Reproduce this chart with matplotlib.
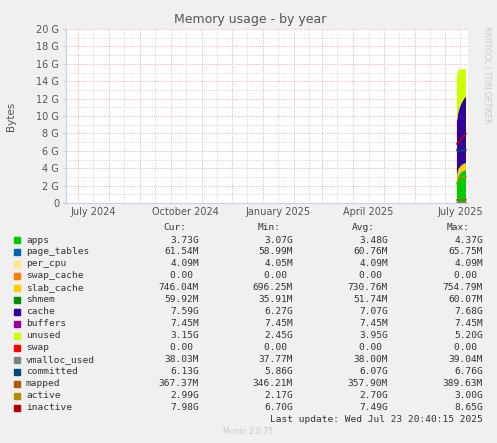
import numpy as np
import matplotlib
matplotlib.use("Agg")
import matplotlib.pyplot as plt

W, H = 497, 443
BG = "#F0F0F0"

# days since 2024-07-01
days = [377, 378.5, 380, 381.5, 383, 384.5, 386]
apps = [2.3, 3.1, 3.3, 3.5, 3.6, 3.7, 3.73]
page_tables = [0.06, 0.06, 0.06, 0.06, 0.06, 0.06, 0.06]
per_cpu = [0.004] * 7
swap_cache = [0.0] * 7
slab_cache = [0.70, 0.72, 0.73, 0.74, 0.75, 0.75, 0.746]
shmem = [0.04, 0.05, 0.05, 0.06, 0.06, 0.06, 0.06]
cache = [6.3, 6.6, 6.9, 7.1, 7.3, 7.5, 7.59]
buffers = [0.007] * 7
unused = [5.2, 4.8, 4.3, 3.9, 3.6, 3.3, 3.15]
swap = [0.0] * 7
vmalloc_used = [0.038] * 7
committed = [6.1, 5.9, 6.0, 6.1, 6.0, 6.2, 6.13]
mapped = [0.35, 0.35, 0.36, 0.36, 0.36, 0.37, 0.367]
active = [2.2, 2.9, 2.95, 3.0, 2.95, 3.0, 2.99]
inactive = [6.8, 7.0, 7.2, 7.4, 7.6, 7.8, 7.98]

areas = [
    ("apps", apps, "#00CC00"), ("page_tables", page_tables, "#0066B3"),
    ("per_cpu", per_cpu, "#FFE680"), ("swap_cache", swap_cache, "#FF8000"),
    ("slab_cache", slab_cache, "#FFCC00"), ("shmem", shmem, "#008F00"),
    ("cache", cache, "#330099"), ("buffers", buffers, "#990099"),
    ("unused", unused, "#CCFF00"), ("swap", swap, "#FF0000"),
]
lines = [
    ("vmalloc_used", vmalloc_used, "#808080"), ("committed", committed, "#00487D"),
    ("mapped", mapped, "#B35A00"), ("active", active, "#B38F00"),
    ("inactive", inactive, "#B30000"),
]

names = ["apps", "page_tables", "per_cpu", "swap_cache", "slab_cache", "shmem", "cache",
         "buffers", "unused", "swap", "vmalloc_used", "committed", "mapped", "active", "inactive"]
cur = ["3.73G", "61.54M", "4.09M", "0.00", "746.04M", "59.92M", "7.59G", "7.45M", "3.15G",
       "0.00", "38.03M", "6.13G", "367.37M", "2.99G", "7.98G"]
mn = ["3.07G", "58.99M", "4.05M", "0.00", "696.25M", "35.91M", "6.27G", "7.45M", "2.45G",
      "0.00", "37.77M", "5.86G", "346.21M", "2.17G", "6.70G"]
avg = ["3.48G", "60.76M", "4.09M", "0.00", "730.76M", "51.74M", "7.07G", "7.45M", "3.95G",
       "0.00", "38.00M", "6.07G", "357.90M", "2.70G", "7.49G"]
mx = ["4.37G", "65.75M", "4.09M", "0.00", "754.79M", "60.07M", "7.68G", "7.45M", "5.20G",
      "0.00", "39.04M", "6.76G", "389.63M", "3.00G", "8.65G"]
colors = [c for _, _, c in areas] + [c for _, _, c in lines]

tick_labels = ["July 2024", "October 2024", "January 2025", "April 2025", "July 2025"]

fig = plt.figure(figsize=(W / 100, H / 100), dpi=100, facecolor=BG)
ax = fig.add_axes([66 / W, 1 - 203 / H, 402 / W, 174 / H])
ax.set_facecolor("white")

origin = np.datetime64("2024-07-01")
month_starts = np.arange(np.datetime64("2024-07"), np.datetime64("2025-08"), dtype="datetime64[M]")
month_days = (month_starts.astype("datetime64[D]") - origin).astype(int)
ax.set_xlim(-12, 388)
ax.set_ylim(0, 20)

for d in month_days:
    ax.axvline(d + 15, color="#C8C8C8", lw=0.6, ls=(0, (1, 1.5)), zorder=0)
    ax.axvline(d, color="#E0A0A0", lw=0.6, ls=(0, (1, 1.5)), zorder=0.5)
for y in range(1, 21, 2):
    ax.axhline(y, color="#C8C8C8", lw=0.6, ls=(0, (1, 1.5)), zorder=0)
for y in range(2, 21, 2):
    ax.axhline(y, color="#E0A0A0", lw=0.6, ls=(0, (1, 1.5)), zorder=0.5)

ax.stackplot(days, [v for _, v, _ in areas], colors=[c for _, _, c in areas], lw=0, zorder=2)
for _, v, c in lines:
    ax.plot(days, v, color=c, lw=1.2, zorder=3)

ax.set_yticks(range(0, 21, 2))
ax.set_yticklabels(["0"] + [f"{y} G" for y in range(2, 21, 2)])
lab_pos = [month_days[i] + 15 for i in (0, 3, 6, 9, 12)]
ax.set_xticks(lab_pos)
ax.set_xticklabels(tick_labels)
ax.tick_params(axis="both", length=0, labelsize=7, colors="#555555", pad=3)
ax.tick_params(axis="y", length=2, color="#C8C8C8")
for s in ["top", "right"]:
    ax.spines[s].set_visible(False)
ax.spines["left"].set_color("#C8D0F0")
ax.spines["bottom"].set_color("#C8D0F0")

fig.text(250 / W, 1 - 19 / H, "Memory usage - by year", ha="center", va="center",
         fontsize=9, color="#555555")
fig.text(11 / W, 1 - 116 / H, "Bytes", rotation=90, ha="center", va="center",
         fontsize=7.5, color="#555555")
fig.text(487 / W, 1 - 26 / H, "RRDTOOL / TOBI OETIKER", rotation=270, ha="center", va="top",
         fontsize=5.5, color="#C8C8C8")

mono = "DejaVu Sans Mono"
fs = 6.8
tc = "#333333"
hy = 1 - 228 / H
for x, t in zip([186, 281, 375, 470], ["Cur:", "Min:", "Avg:", "Max:"]):
    fig.text(x / W, hy, t, ha="right", va="center", family=mono, fontsize=fs, color=tc)
for i, n in enumerate(names):
    y = 240 + i * 12
    fy = 1 - y / H
    fig.patches.append(plt.Rectangle((14 / W, fy - 3 / H), 6 / W, 6 / H, color=colors[i],
                                     transform=fig.transFigure, figure=fig))
    fig.text(26 / W, fy, n, ha="left", va="center", family=mono, fontsize=fs, color=tc)
    for x, col in zip([199, 293, 388, 483], [cur, mn, avg, mx]):
        v = col[i]
        if v[-1].isdigit():
            v = v + " "
        fig.text(x / W, fy, v, ha="right", va="center", family=mono, fontsize=fs, color=tc)
fig.text(483 / W, 1 - 420 / H, "Last update: Wed Jul 23 20:40:15 2025", ha="right", va="center",
         family=mono, fontsize=fs, color=tc)
fig.text(248 / W, 1 - 432 / H, "Munin 2.0.75", ha="center", va="center",
         fontsize=5.5, color="#C8C8C8")

fig.savefig("out.png", dpi=100, facecolor=BG)
